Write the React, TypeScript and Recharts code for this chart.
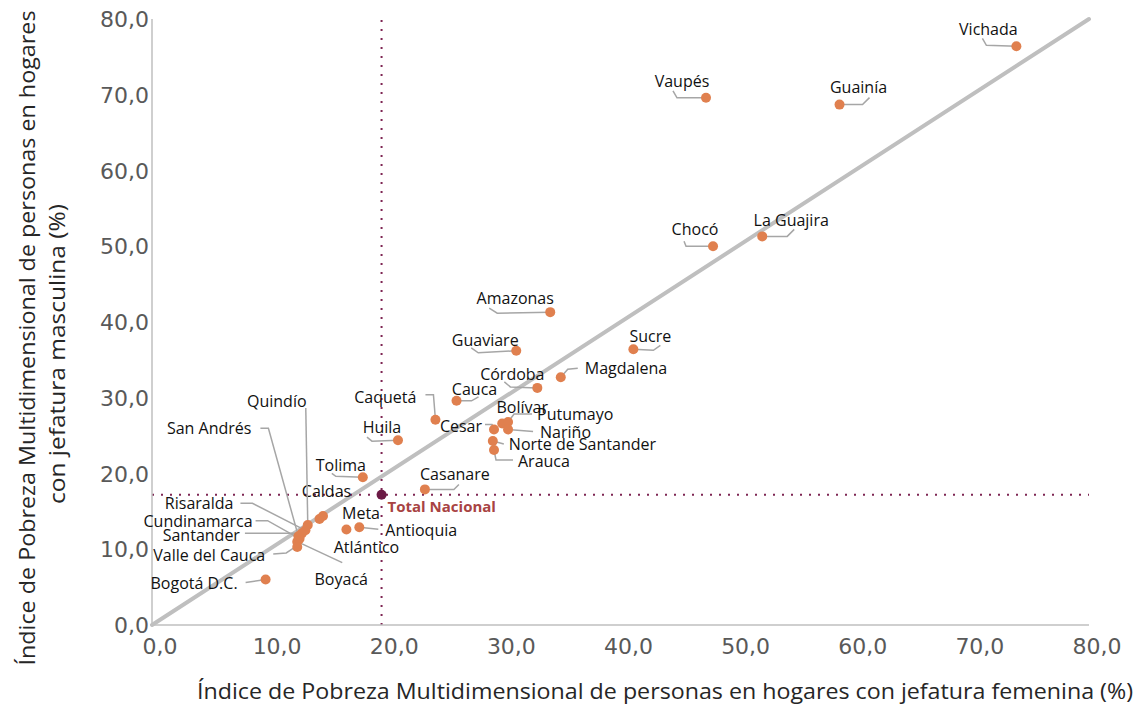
import React from 'react';
import { ScatterChart, Scatter, XAxis, YAxis, ReferenceLine } from 'recharts';

// ---------- DATA ----------
const DEPARTMENTS = [
  'Vichada', 'Vaupés', 'Guainía', 'Chocó', 'La Guajira', 'Amazonas', 'Guaviare', 'Sucre',
  'Magdalena', 'Córdoba', 'Cauca', 'Caquetá', 'Bolívar', 'Putumayo', 'Nariño', 'Cesar',
  'Norte de Santander', 'Arauca', 'Huila', 'Tolima', 'Casanare', 'Meta', 'Caldas', 'Antioquia',
  'Atlántico', 'Bogotá D.C.', 'Quindío', 'Risaralda', 'Santander', 'San Andrés', 'Cundinamarca',
  'Boyacá', 'Valle del Cauca',
];
// IPM of people in households with female head (%)
const FEMALE_IPM = [
  73.8, 47.3, 58.7, 47.9, 52.1, 34.0, 31.1, 41.1,
  34.9, 32.9, 26.0, 24.2, 29.9, 30.4, 30.4, 29.2,
  29.1, 29.2, 21.0, 18.0, 23.3, 14.6, 14.3, 17.7,
  16.6, 9.7, 13.3, 13.1, 12.8, 12.5, 12.6,
  12.4, 12.4,
];
// IPM of people in households with male head (%)
const MALE_IPM = [
  76.4, 69.6, 68.7, 50.0, 51.3, 41.3, 36.2, 36.4,
  32.7, 31.3, 29.6, 27.1, 26.6, 26.8, 25.8, 25.8,
  24.3, 23.1, 24.4, 19.5, 17.9, 14.4, 14.0, 12.9,
  12.6, 6.0, 13.2, 12.5, 12.1, 11.7, 11.4,
  11.0, 10.3,
];
const TOTAL_NAME = 'Total Nacional';
const TOTAL_FEMALE = 19.6;
const TOTAL_MALE = 17.2;
const AXIS_TICKS = [0, 10, 20, 30, 40, 50, 60, 70, 80];

// ---------- LABEL LAYOUT (pixel offsets from each dot) ----------
type Layout = { tx: number; ty: number; anchor: 'start' | 'middle' | 'end'; leader?: number[][] };
const LABEL_LAYOUT: Record<string, Layout> = {
  'Vichada': { tx: -28, ty: -17, anchor: 'middle', leader: [[0, 0], [-30, -1], [-34, -8]] },
  'Vaupés': { tx: -24, ty: -17, anchor: 'middle', leader: [[0, 0], [-29, 0], [-33, -7]] },
  'Guainía': { tx: 19, ty: -18, anchor: 'middle', leader: [[0, 0], [23, 0], [30, -7]] },
  'Chocó': { tx: -18, ty: -17, anchor: 'middle', leader: [[0, 0], [-27, 0], [-29, -5]] },
  'La Guajira': { tx: 29, ty: -16, anchor: 'middle', leader: [[0, 0], [25, 0], [32, -7]] },
  'Amazonas': { tx: -35, ty: -14, anchor: 'middle', leader: [[0, 0], [-53, 1], [-61, -4]] },
  'Guaviare': { tx: -31, ty: -11, anchor: 'middle', leader: [[0, 0], [-38, 2], [-45, -3]] },
  'Sucre': { tx: 17, ty: -13, anchor: 'middle', leader: [[0, 0], [20, 1], [27, -4]] },
  'Magdalena': { tx: 24, ty: -9, anchor: 'start', leader: [[0, 0], [7, -8], [17, -9]] },
  'Córdoba': { tx: -25, ty: -14, anchor: 'middle', leader: [[0, 0], [-27, -1], [-33, -6]] },
  'Cauca': { tx: 18, ty: -12, anchor: 'middle', leader: [[0, 0], [15, 0], [22, -4]] },
  'Caquetá': { tx: -19, ty: -23, anchor: 'end', leader: [[0, 0], [-2, -25], [-10, -25]] },
  'Bolívar': { tx: 20, ty: -17, anchor: 'middle' },
  'Putumayo': { tx: 29, ty: -8, anchor: 'start', leader: [[0, 0], [6, -8], [24, -8]] },
  'Nariño': { tx: 32, ty: 2, anchor: 'start', leader: [[0, 0], [25, 2]] },
  'Cesar': { tx: -12, ty: -4, anchor: 'end', leader: [[0, 0], [-2, -5], [-9, -5]] },
  'Norte de Santander': { tx: 16, ty: 3, anchor: 'start', leader: [[0, 0], [11, 3]] },
  'Arauca': { tx: 24, ty: 11, anchor: 'start', leader: [[0, 0], [2, 10], [19, 10]] },
  'Huila': { tx: -16, ty: -13, anchor: 'middle', leader: [[0, 0], [-26, 1], [-31, -3]] },
  'Tolima': { tx: -22, ty: -12, anchor: 'middle', leader: [[0, 0], [-27, -1], [-31, -4]] },
  'Casanare': { tx: 30, ty: -15, anchor: 'middle', leader: [[0, 0], [29, 0], [34, -5]] },
  'Meta': { tx: 38, ty: -3, anchor: 'middle' },
  'Caldas': { tx: 7, ty: -28, anchor: 'middle' },
  'Antioquia': { tx: 26, ty: 3, anchor: 'start', leader: [[0, 0], [19, 2]] },
  'Atlántico': { tx: 20, ty: 17, anchor: 'middle' },
  'Bogotá D.C.': { tx: -28, ty: 3, anchor: 'end', leader: [[0, 0], [-13, 2], [-20, 3]] },
  'Quindío': { tx: -31, ty: -124, anchor: 'middle', leader: [[0, 0], [-2, -117]] },
  'Risaralda': { tx: -72, ty: -27, anchor: 'end', leader: [[0, 0], [-53, -27], [-65, -27]] },
  'Santander': { tx: -62, ty: 2, anchor: 'end', leader: [[0, 0], [-57, 0]] },
  'San Andrés': { tx: -47, ty: -108, anchor: 'end', leader: [[0, 0], [-30, -108], [-38, -108]] },
  'Cundinamarca': { tx: -47, ty: -18, anchor: 'end', leader: [[0, 0], [-32, -18], [-44, -18]] },
  'Boyacá': { tx: 44, ty: 37, anchor: 'middle', leader: [[0, 0], [45, 21]] },
  'Valle del Cauca': { tx: -32, ty: 8, anchor: 'end', leader: [[0, 0], [-2, 0], [-11, 6], [-24, 7]] },
};

const rows = DEPARTMENTS.map((name, i) => ({ name, female: FEMALE_IPM[i], male: MALE_IPM[i] }));
const totalRows = [{ name: TOTAL_NAME, female: TOTAL_FEMALE, male: TOTAL_MALE }];

const fmt = (v: number) => v.toFixed(1).replace('.', ',');

const TICK_FONT = "'DejaVu Sans', Verdana, sans-serif";
const LABEL_FONT = "'Open Sans', 'Noto Sans', sans-serif";

const XTick = (props: any) => {
  const { x, y, payload } = props;
  return (
    <text x={x + 8} y={y + 29} textAnchor="middle" fill="#595959" fontSize={22} fontFamily={TICK_FONT}>
      {fmt(payload.value)}
    </text>
  );
};

const YTick = (props: any) => {
  const { x, y, payload } = props;
  return (
    <text x={x - 3} y={y + 8} textAnchor="end" fill="#595959" fontSize={22} fontFamily={TICK_FONT}>
      {fmt(payload.value)}
    </text>
  );
};

const LabelShape = (props: any) => {
  const { cx, cy, payload } = props;
  if (cx == null || cy == null) return <g />;
  const lay = LABEL_LAYOUT[payload.name];
  if (!lay) return <g />;
  const pts = lay.leader ? lay.leader.map((p) => `${cx + p[0]},${cy + p[1]}`).join(' ') : null;
  return (
    <g>
      {pts && <polyline points={pts} fill="none" stroke="#A6A6A6" strokeWidth={1.5} />}
      <text
        x={cx + lay.tx}
        y={cy + lay.ty}
        textAnchor={lay.anchor}
        dominantBaseline="central"
        fontSize={16}
        fontFamily={LABEL_FONT}
        fill="#111111"
      >
        {payload.name}
      </text>
    </g>
  );
};

const DotShape = (props: any) => {
  const { cx, cy } = props;
  if (cx == null || cy == null) return <g />;
  return <circle cx={cx} cy={cy} r={5} fill="#E0804F" />;
};

const TotalShape = (props: any) => {
  const { cx, cy, payload } = props;
  if (cx == null || cy == null) return <g />;
  return (
    <g>
      <circle cx={cx} cy={cy} r={5} fill="#6B1A45" />
      <text
        x={cx + 6}
        y={cy + 11}
        dominantBaseline="central"
        fontSize={15}
        fontWeight="bold"
        fontFamily={LABEL_FONT}
        fill="#A84343"
      >
        {payload.name}
      </text>
    </g>
  );
};

export default function App() {
  return (
    <div style={{ position: 'absolute', left: 0, top: 0, width: 1139, height: 710, background: '#fff' }}>
      <ScatterChart width={1139} height={710} margin={{ top: 19, right: 50, bottom: 0, left: 0 }}>
        <XAxis
          type="number"
          dataKey="female"
          domain={[0, 80]}
          ticks={AXIS_TICKS}
          interval={0}
          height={85}
          tickSize={0}
          tickMargin={0}
          tickLine={false}
          axisLine={{ stroke: '#BFBFBF', strokeWidth: 1.5 }}
          tick={<XTick />}
        />
        <YAxis
          type="number"
          dataKey="male"
          domain={[0, 80]}
          ticks={AXIS_TICKS}
          interval={0}
          width={152}
          tickSize={0}
          tickMargin={0}
          tickLine={false}
          axisLine={{ stroke: '#BFBFBF', strokeWidth: 1.5 }}
          tick={<YTick />}
        />
        <ReferenceLine
          segment={[{ x: 0, y: 0 }, { x: 80, y: 80 }]}
          stroke="#BFBFBF"
          strokeWidth={4}
          strokeLinecap="round"
        />
        <ReferenceLine x={TOTAL_FEMALE} stroke="#7E2653" strokeWidth={2} strokeDasharray="2 7" />
        <ReferenceLine y={TOTAL_MALE} stroke="#7E2653" strokeWidth={2} strokeDasharray="2 7" />
        <Scatter data={rows} shape={<LabelShape />} isAnimationActive={false} />
        <Scatter data={rows} shape={<DotShape />} isAnimationActive={false} />
        <Scatter data={totalRows} shape={<TotalShape />} isAnimationActive={false} />
      </ScatterChart>
      <svg
        width={1139}
        height={710}
        style={{ position: 'absolute', left: 0, top: 0, pointerEvents: 'none' }}
      >
        <text
          x={665}
          y={699}
          textAnchor="middle"
          fontSize={22}
          fontFamily={LABEL_FONT}
          fill="#262626"
          textLength={936}
          lengthAdjust="spacingAndGlyphs"
        >
          Índice de Pobreza Multidimensional de personas en hogares con jefatura femenina (%)
        </text>
        <text
          x={35}
          y={338}
          transform="rotate(-90 35 338)"
          textAnchor="middle"
          fontSize={22}
          fontFamily={LABEL_FONT}
          fill="#262626"
          textLength={655}
          lengthAdjust="spacingAndGlyphs"
        >
          Índice de Pobreza Multidimensional de personas en hogares
        </text>
        <text
          x={65}
          y={354}
          transform="rotate(-90 65 354)"
          textAnchor="middle"
          fontSize={22}
          fontFamily={LABEL_FONT}
          fill="#262626"
          textLength={300}
          lengthAdjust="spacingAndGlyphs"
        >
          con jefatura masculina (%)
        </text>
      </svg>
    </div>
  );
}
